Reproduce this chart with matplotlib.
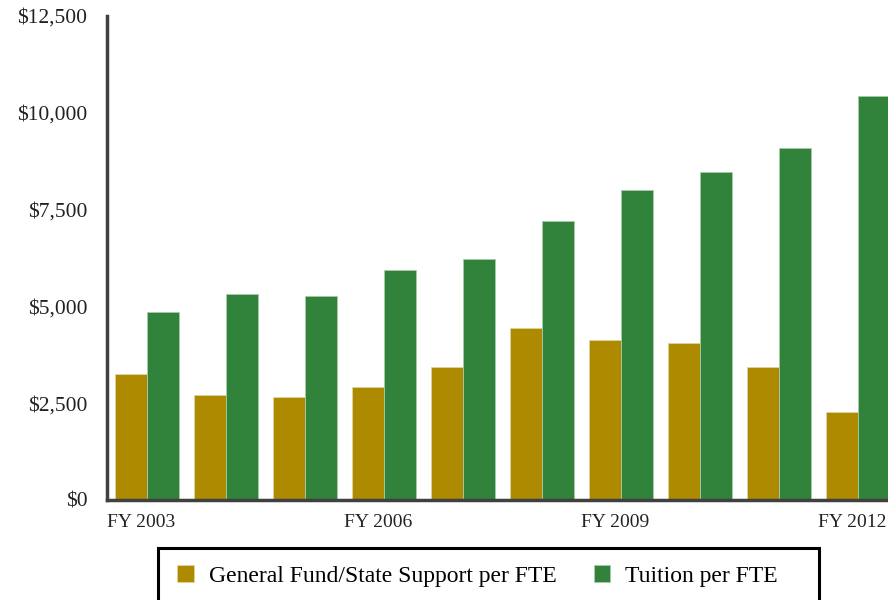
import matplotlib
matplotlib.use("Agg")
import matplotlib.pyplot as plt
import numpy as np
from matplotlib.patches import Rectangle
from matplotlib.ticker import FuncFormatter
from matplotlib.transforms import ScaledTranslation

years = ["FY 2003", "FY 2004", "FY 2005", "FY 2006", "FY 2007",
         "FY 2008", "FY 2009", "FY 2010", "FY 2011", "FY 2012"]
general_fund = [3255, 2712, 2669, 2925, 3427, 4451, 4125, 4048, 3427, 2265]
tuition = [4860, 5313, 5275, 5941, 6225, 7215, 8007, 8465, 9084, 10443]
series_names = ["General Fund/State Support per FTE", "Tuition per FTE"]
gold = "#AD8A00"
green = "#31823B"

plt.rcParams['font.family'] = ['Liberation Serif', 'DejaVu Serif']

fig = plt.figure(figsize=(8.88, 6.0), dpi=100)
ax = fig.add_axes([107/888, 1 - 500/600, 1 - 107/888, (500 - 16)/600])

x = np.arange(len(years))
w = 0.405
b1 = ax.bar(x - w/2, general_fund, w, color=gold, edgecolor="#E0D3A0", linewidth=0.6,
            label=series_names[0])
b2 = ax.bar(x + w/2, tuition, w, color=green, edgecolor="#A8CBA8", linewidth=0.6,
            label=series_names[1])

ax.set_ylim(0, 12500)
ax.set_xlim(-0.506, (888 - 147) / 79.0)
ax.set_yticks(np.arange(0, 12501, 2500))
ax.yaxis.set_major_formatter(FuncFormatter(lambda v, p: f"${v:,.0f}"))
ax.set_xticks(x[::3])
ax.set_xticklabels(years[::3])
ax.tick_params(axis='y', length=0, pad=14, labelsize=15.5, labelcolor="#222222")
ax.tick_params(axis='x', length=0, pad=10, labelsize=14, labelcolor="#222222")
shift = ScaledTranslation(-6/100, 0, fig.dpi_scale_trans)
for lbl in ax.get_xticklabels():
    lbl.set_transform(lbl.get_transform() + shift)

for s in ["top", "right"]:
    ax.spines[s].set_visible(False)
for s in ["left", "bottom"]:
    ax.spines[s].set_color("#404040")
    ax.spines[s].set_linewidth(2.5)

# legend box (bottom cut off by figure edge)
rect = Rectangle((158/888, -0.05), (819 - 158)/888, 0.05 + 1 - 548/600,
                 transform=fig.transFigure, fill=False, edgecolor="black",
                 linewidth=2.2, clip_on=False)
fig.patches.append(rect)

fig.legend(handles=[b1, b2], labels=series_names, loc="center",
           bbox_to_anchor=(0.538, 1 - 576/600), ncol=2, frameon=False,
           fontsize=17, handlelength=0.7, handleheight=0.7,
           columnspacing=1.55, handletextpad=0.65)

fig.savefig("out.png", dpi=100)
